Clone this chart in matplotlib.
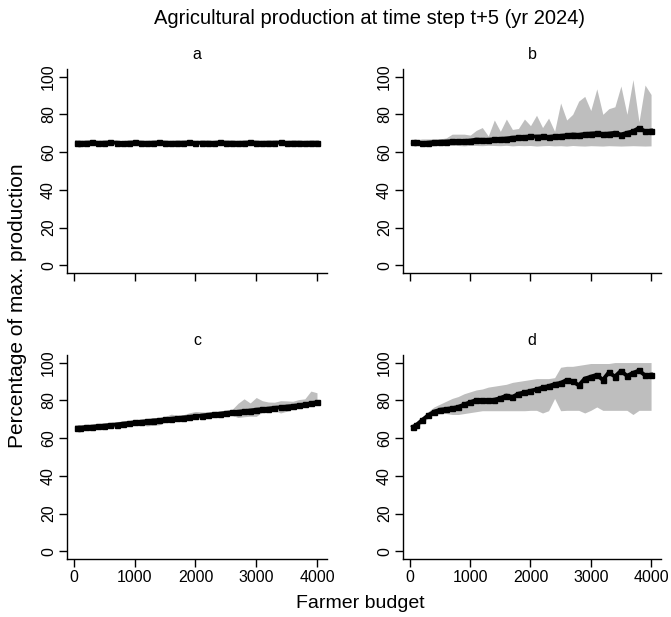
import matplotlib
matplotlib.use('Agg')
import matplotlib.pyplot as plt
import numpy as np

plt.rcParams['font.family'] = ['Liberation Sans', 'DejaVu Sans']

# farmer budget (x) shared by all panels
budget = [50, 100, 200, 300, 400, 500, 600, 700, 800, 900, 1000,
          1100, 1200, 1300, 1400, 1500, 1600, 1700, 1800, 1900, 2000,
          2100, 2200, 2300, 2400, 2500, 2600, 2700, 2800, 2900, 3000,
          3100, 3200, 3300, 3400, 3500, 3600, 3700, 3800, 3900, 4000]

# panel a
a_mean = [65.0, 64.9, 65.0, 65.1, 64.9, 65.0, 65.1, 65.0, 64.8, 65.0, 65.1,
          65.0, 64.9, 65.0, 65.1, 65.0, 64.9, 65.0, 65.0, 65.1, 64.9,
          65.0, 65.0, 64.9, 65.1, 65.0, 65.0, 64.9, 65.0, 65.1, 65.0,
          64.9, 65.0, 65.0, 65.1, 64.9, 65.0, 65.0, 64.9, 65.0, 65.0]
a_low = [64.2, 64.0, 64.3, 64.2, 64.1, 64.3, 64.2, 64.2, 64.0, 64.2, 64.3,
         64.2, 64.1, 64.2, 64.3, 64.2, 64.1, 64.2, 64.2, 64.3, 64.1,
         64.2, 64.2, 64.1, 64.3, 64.2, 64.2, 64.1, 64.2, 64.3, 64.2,
         64.1, 64.2, 64.2, 64.3, 64.1, 64.2, 64.2, 64.1, 64.2, 64.2]
a_high = [65.8, 65.8, 65.9, 66.0, 65.8, 65.9, 66.0, 65.9, 65.7, 65.9, 66.0,
          65.8, 65.8, 65.9, 66.0, 65.9, 65.8, 65.9, 65.8, 66.0, 65.8,
          65.9, 65.8, 65.8, 66.0, 65.9, 65.8, 65.8, 65.9, 66.0, 65.9,
          65.8, 65.9, 65.8, 66.0, 65.8, 65.9, 65.8, 65.8, 65.9, 65.8]

# panel b
b_mean = [65.3, 65.2, 64.8, 65.0, 65.3, 65.5, 65.6, 65.8, 65.8, 65.9, 66.1,
          66.6, 66.5, 66.5, 66.8, 67.0, 67.2, 67.6, 67.8, 68.0, 68.3,
          68.2, 68.3, 68.0, 68.4, 68.6, 68.9, 69.3, 69.1, 69.6, 69.8,
          70.0, 69.6, 69.8, 70.2, 69.3, 70.2, 71.0, 72.8, 71.0, 71.4]
b_low = [64.0, 63.8, 63.3, 63.2, 63.4, 63.6, 63.5, 63.6, 63.5, 63.3, 63.6,
         63.5, 63.4, 63.6, 63.5, 63.4, 63.6, 63.3, 63.5, 63.4, 63.5,
         63.2, 63.4, 63.5, 63.3, 63.4, 63.2, 63.5, 63.3, 63.2, 63.4,
         63.3, 63.2, 63.4, 63.3, 63.2, 63.3, 63.4, 63.3, 63.2, 63.3]
b_high = [66.5, 66.5, 67.0, 67.0, 67.0, 67.0, 67.5, 69.5, 69.5, 69.5, 69.0,
          71.5, 73.0, 68.5, 77.0, 71.0, 77.5, 72.0, 72.5, 77.5, 74.0,
          79.5, 73.0, 78.0, 71.0, 86.0, 77.0, 80.0, 87.0, 89.5, 82.0,
          93.5, 80.0, 83.0, 84.0, 95.0, 80.0, 98.4, 76.0, 95.5, 90.5]

# panel c
c_mean = [65.5, 65.5, 65.8, 66.0, 66.3, 66.6, 66.9, 67.2, 67.6, 67.9, 68.3,
          68.6, 68.9, 69.3, 69.5, 69.9, 70.2, 70.6, 70.9, 71.2, 71.6,
          71.9, 72.3, 72.6, 72.9, 73.3, 73.6, 73.9, 74.3, 74.6, 75.0,
          75.3, 75.6, 76.0, 76.3, 76.7, 77.0, 77.4, 77.8, 78.4, 79.0]
c_low = [64.0, 64.0, 64.3, 64.5, 64.8, 65.1, 65.4, 65.7, 66.1, 66.4, 66.8,
         67.1, 66.4, 66.8, 67.0, 68.4, 68.7, 69.1, 69.4, 69.7, 70.1,
         70.4, 70.8, 71.1, 71.4, 71.8, 72.1, 70.9, 71.3, 71.6, 71.5,
         73.8, 74.1, 74.5, 73.3, 74.2, 75.5, 75.9, 76.3, 76.9, 77.5]
c_high = [67.0, 67.0, 67.3, 67.5, 67.8, 68.1, 68.4, 68.7, 69.1, 69.4, 69.8,
          70.1, 70.4, 70.8, 71.0, 71.4, 72.7, 72.1, 72.4, 73.4, 74.1,
          73.9, 73.8, 74.1, 74.4, 74.8, 75.1, 78.4, 80.8, 78.6, 81.5,
          79.8, 79.1, 79.0, 79.8, 79.7, 79.5, 80.4, 80.8, 84.9, 84.0]

# panel d
d_mean = [66.0, 66.8, 69.5, 72.0, 74.0, 75.0, 75.4, 75.8, 76.5, 77.8, 79.0,
          80.2, 80.0, 80.0, 80.3, 81.2, 82.5, 81.8, 83.5, 84.2, 85.0,
          85.8, 86.8, 87.5, 88.6, 89.2, 90.8, 90.2, 87.9, 91.5, 92.5,
          93.5, 90.8, 94.8, 92.6, 95.6, 93.0, 94.5, 95.8, 93.2, 93.6]
d_low = [65.0, 65.5, 68.0, 70.5, 72.5, 73.0, 73.0, 72.5, 72.5, 73.0, 73.5,
         74.0, 74.5, 74.5, 74.5, 74.5, 74.5, 74.5, 74.5, 74.5, 74.7,
         74.7, 73.3, 74.5, 81.0, 74.5, 74.7, 74.7, 74.7, 73.3, 74.7,
         76.5, 74.7, 74.7, 74.7, 74.7, 74.7, 72.5, 74.7, 74.7, 74.7]
d_high = [67.0, 68.0, 71.0, 74.0, 76.5, 78.0, 79.5, 81.0, 82.0, 83.5, 84.5,
          85.5, 86.0, 87.0, 87.5, 88.0, 88.5, 89.5, 90.0, 90.5, 91.0,
          91.5, 91.5, 91.5, 92.0, 97.5, 98.0, 98.0, 98.5, 99.0, 99.5,
          99.5, 99.5, 99.5, 100.0, 100.0, 100.0, 100.0, 100.0, 100.0, 100.0]

panels = [('a', a_mean, a_low, a_high),
          ('b', b_mean, b_low, b_high),
          ('c', c_mean, c_low, c_high),
          ('d', d_mean, d_low, d_high)]

W, H = 671, 617
fig = plt.figure(figsize=(W / 100, H / 100), dpi=100)

# axes boxes in pixels: left, top, width, height
boxes = [(67, 69, 260, 204), (403, 69, 258, 204),
         (67, 355, 260, 204), (403, 355, 258, 204)]

for i, (lab, m, lo, hi) in enumerate(panels):
    l, t, w, h = boxes[i]
    ax = fig.add_axes([l / W, 1 - (t + h) / H, w / W, h / H])
    ax.fill_between(budget, lo, hi, color='#bebebe', lw=0)
    ax.plot(budget, m, color='black', lw=2.8, marker='s', ms=3.6)
    ax.set_xlim(-115, 4165)
    ax.set_ylim(-4, 104)
    ax.set_xticks([0, 1000, 2000, 3000, 4000])
    ax.set_yticks([0, 20, 40, 60, 80, 100])
    ax.spines['top'].set_visible(False)
    ax.spines['right'].set_visible(False)
    for s in ['left', 'bottom']:
        ax.spines[s].set_linewidth(1.0)
    ax.tick_params(direction='out', length=6, width=1.0, labelsize=11.5, pad=2)
    ax.tick_params(axis='y', labelrotation=90)
    for tl in ax.get_yticklabels():
        tl.set_va('center')
    if i < 2:
        ax.tick_params(axis='x', labelbottom=False)
    ax.set_title(lab, fontsize=11.5, pad=7)

fig.text(369 / W, 1 - 19 / H, 'Agricultural production at time step t+5 (yr 2024)',
         ha='center', va='center', fontsize=14.5)
fig.text(18 / W, 1 - 306 / H, 'Percentage of max. production', rotation=90,
         ha='center', va='center', fontsize=15)
fig.text(360 / W, 1 - 603 / H, 'Farmer budget', ha='center', va='center', fontsize=14)

fig.savefig('out.png', dpi=100)
